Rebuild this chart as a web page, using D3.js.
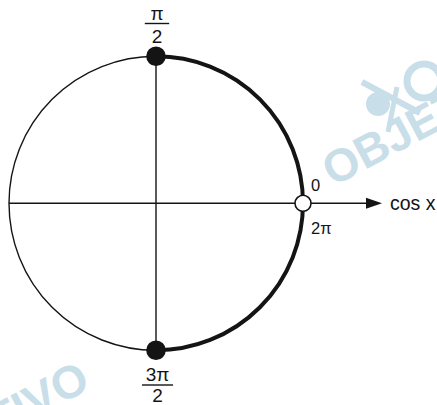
<!DOCTYPE html>
<html><head><meta charset="utf-8">
<script src="https://cdn.jsdelivr.net/npm/d3@7"></script>
<style>html,body{margin:0;padding:0;background:#fff;overflow:hidden}svg{display:block}</style>
</head><body><svg id="c" width="437" height="405"></svg>
<script>
// Data
const axisLabel = "cos x";
const pointAngles = [90, 0, 270];          // degrees on unit circle
const pointFilled = [true, false, true];
const highlightArc = [-90, 90];            // degrees, thick arc (3π/2 → 0 → π/2)
const zeroLabels = ["0", "2π"];
const topLabel = ["π", "2"];
const bottomLabel = ["3π", "2"];
const watermarkText = "OBJETIVO";

const svg = d3.select("#c");
const cx = 156, cy = 203.3, R = 147;
const x = d3.scaleLinear().domain([-1, 1]).range([cx - R, cx + R]);
const y = d3.scaleLinear().domain([-1, 1]).range([cy + R, cy - R]);
const font = "'Liberation Sans', Arial, Helvetica, sans-serif";
const wm = "#c8dee8";
const ink = "#141414";

// watermark
const g = svg.append("g").attr("fill", wm);
[[333, 187], [-113, 497]].forEach(p => {
  g.append("text").attr("transform", `translate(${p[0]},${p[1]}) rotate(-28)`)
    .attr("font-family", font).attr("font-weight", "bold").attr("font-size", 46)
    .text(watermarkText);
});
g.append("circle").attr("cx", 378).attr("cy", 104).attr("r", 12);
g.append("circle").attr("cx", 424).attr("cy", 81).attr("r", 17)
  .attr("fill", "none").attr("stroke", wm).attr("stroke-width", 7);
g.append("line").attr("x1", 362).attr("y1", 82).attr("x2", 420).attr("y2", 113)
  .attr("stroke", wm).attr("stroke-width", 6);
g.append("line").attr("x1", 397).attr("y1", 87).attr("x2", 388).attr("y2", 132)
  .attr("stroke", wm).attr("stroke-width", 5);

// circle
svg.append("circle").attr("cx", x(0)).attr("cy", y(0)).attr("r", x(1) - x(0))
  .attr("fill", "none").attr("stroke", ink).attr("stroke-width", 1.4);

// axes
svg.append("line").attr("x1", x(-1)).attr("y1", y(0)).attr("x2", 368).attr("y2", y(0))
  .attr("stroke", ink).attr("stroke-width", 1.4);
svg.append("path").attr("d", `M366,${y(0)-5.5} L382,${y(0)} L366,${y(0)+5.5} Z`).attr("fill", ink);
svg.append("line").attr("x1", x(0)).attr("y1", y(1)).attr("x2", x(0)).attr("y2", y(-1))
  .attr("stroke", ink).attr("stroke-width", 1.4);

// thick arc
const arc = d3.arc().innerRadius(R).outerRadius(R)
  .startAngle((90 - highlightArc[1]) * Math.PI / 180)
  .endAngle((90 - highlightArc[0]) * Math.PI / 180);
svg.append("path").attr("transform", `translate(${x(0)},${y(0)})`).attr("d", arc())
  .attr("fill", "none").attr("stroke", ink).attr("stroke-width", 4);

// points
pointAngles.forEach((a, i) => {
  const r = a * Math.PI / 180;
  svg.append("circle").attr("cx", x(Math.cos(r))).attr("cy", y(Math.sin(r)))
    .attr("r", pointFilled[i] ? 9 : 8)
    .attr("fill", pointFilled[i] ? ink : "#fff")
    .attr("stroke", ink).attr("stroke-width", 1.6);
});

// labels
svg.append("text").attr("x", 390).attr("y", 209.5).attr("font-family", font)
  .attr("font-size", 19.5).attr("fill", ink).text(axisLabel);
svg.append("text").attr("x", 311).attr("y", 190.7).attr("font-family", font)
  .attr("font-size", 16.5).attr("fill", ink).text(zeroLabels[0]);
svg.append("text").attr("x", 311).attr("y", 233.5).attr("font-family", font)
  .attr("font-size", 16.5).attr("fill", ink).text(zeroLabels[1]);

function frac(lbl, xc, numBase, yLine, denBase, half) {
  svg.append("text").attr("x", xc).attr("y", numBase).attr("text-anchor", "middle")
    .attr("font-family", font).attr("font-size", 19).attr("fill", ink).text(lbl[0]);
  svg.append("line").attr("x1", xc - half).attr("x2", xc + half).attr("y1", yLine).attr("y2", yLine)
    .attr("stroke", ink).attr("stroke-width", 1.4);
  svg.append("text").attr("x", xc).attr("y", denBase).attr("text-anchor", "middle")
    .attr("font-family", font).attr("font-size", 19).attr("fill", ink).text(lbl[1]);
}
frac(topLabel, 157, 20.3, 23.5, 42.7, 12.2);
frac(bottomLabel, 157.5, 380.7, 385, 401.5, 15.5);
</script></body></html>
